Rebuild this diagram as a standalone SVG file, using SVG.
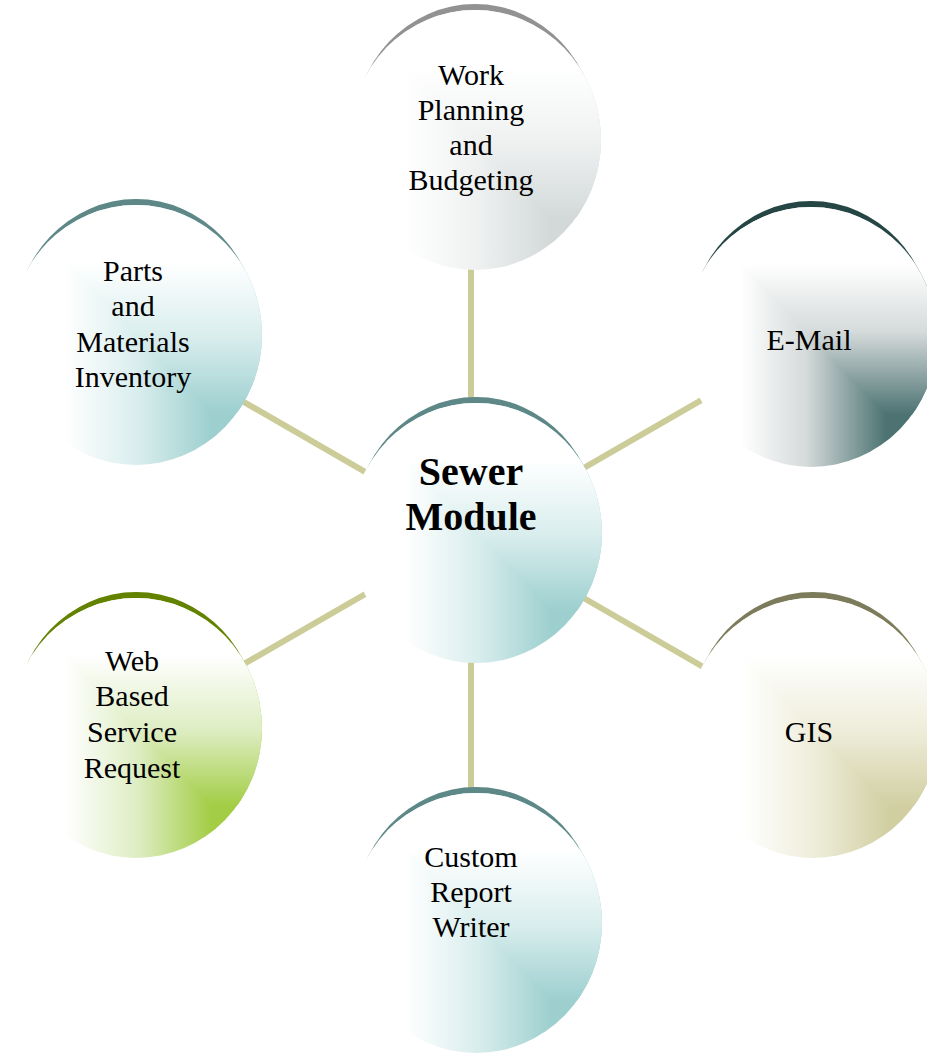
<svg xmlns="http://www.w3.org/2000/svg" width="927" height="1055" viewBox="0 0 927 1055">
  <style>
    .link { stroke: #cccc99; stroke-width: 6; fill: none; }
    .label { font-family: "Liberation Serif", "Times New Roman", serif; font-size: 30px; fill: #000; text-anchor: middle; }
    .hub-label { font-family: "Liberation Serif", "Times New Roman", serif; font-size: 40px; font-weight: bold; fill: #000; text-anchor: middle; }
  </style>
  <defs>
    <!-- upper-right wedge where the vertical ramp dominates (corner-type shading) -->
    <clipPath id="wedge" clipPathUnits="objectBoundingBox">
      <polygon points="0.8,0.8 -0.1,-0.1 1.1,-0.1 1.1,0.8"/>
    </clipPath>

    <!-- teal -->
    <linearGradient id="tealH" x1="0.22" y1="0" x2="0.8" y2="0">
      <stop offset="0" stop-color="#ffffff"/><stop offset="0.5" stop-color="#d9eded"/><stop offset="1" stop-color="#9dcfcf"/>
    </linearGradient>
    <linearGradient id="tealV" x1="0" y1="0.22" x2="0" y2="0.8">
      <stop offset="0" stop-color="#ffffff"/><stop offset="0.5" stop-color="#d9eded"/><stop offset="1" stop-color="#9dcfcf"/>
    </linearGradient>
    <!-- gray -->
    <linearGradient id="grayH" x1="0.22" y1="0" x2="0.8" y2="0">
      <stop offset="0" stop-color="#ffffff"/><stop offset="0.5" stop-color="#eff1f1"/><stop offset="1" stop-color="#d3d9d9"/>
    </linearGradient>
    <linearGradient id="grayV" x1="0" y1="0.22" x2="0" y2="0.8">
      <stop offset="0" stop-color="#ffffff"/><stop offset="0.5" stop-color="#eff1f1"/><stop offset="1" stop-color="#d3d9d9"/>
    </linearGradient>
    <!-- slate -->
    <linearGradient id="slateH" x1="0.22" y1="0" x2="0.8" y2="0">
      <stop offset="0" stop-color="#ffffff"/><stop offset="0.45" stop-color="#d5dada"/><stop offset="1" stop-color="#4c7272"/>
    </linearGradient>
    <linearGradient id="slateV" x1="0" y1="0.22" x2="0" y2="0.8">
      <stop offset="0" stop-color="#ffffff"/><stop offset="0.45" stop-color="#d5dada"/><stop offset="1" stop-color="#4c7272"/>
    </linearGradient>
    <!-- green -->
    <linearGradient id="greenH" x1="0.22" y1="0" x2="0.8" y2="0">
      <stop offset="0" stop-color="#ffffff"/><stop offset="0.5" stop-color="#ddedc2"/><stop offset="1" stop-color="#a3cd45"/>
    </linearGradient>
    <linearGradient id="greenV" x1="0" y1="0.22" x2="0" y2="0.8">
      <stop offset="0" stop-color="#ffffff"/><stop offset="0.5" stop-color="#ddedc2"/><stop offset="1" stop-color="#a3cd45"/>
    </linearGradient>
    <!-- khaki -->
    <linearGradient id="khakiH" x1="0.22" y1="0" x2="0.8" y2="0">
      <stop offset="0" stop-color="#ffffff"/><stop offset="0.5" stop-color="#eeedda"/><stop offset="1" stop-color="#d1cfa2"/>
    </linearGradient>
    <linearGradient id="khakiV" x1="0" y1="0.22" x2="0" y2="0.8">
      <stop offset="0" stop-color="#ffffff"/><stop offset="0.5" stop-color="#eeedda"/><stop offset="1" stop-color="#d1cfa2"/>
    </linearGradient>
  </defs>

  <rect width="927" height="1055" fill="#ffffff"/>

  <!-- spokes from the hub -->
  <g id="connectors">
    <line class="link" x1="471" y1="533" x2="471" y2="140"/>
    <line class="link" x1="471" y1="533" x2="471" y2="923"/>
    <line class="link" x1="471" y1="533" x2="133" y2="338"/>
    <line class="link" x1="471" y1="533" x2="809" y2="338"/>
    <line class="link" x1="471" y1="533" x2="133" y2="728"/>
    <line class="link" x1="471" y1="533" x2="809" y2="728"/>
  </g>

  <!-- each node: a narrower dark ellipse raised behind the face gives the top rim -->
  <g id="node-work">
    <ellipse cx="475" cy="134" rx="122" ry="130" fill="#929292"/>
    <ellipse cx="475" cy="140" rx="126" ry="130" fill="url(#grayH)"/>
    <ellipse cx="475" cy="140" rx="126" ry="130" fill="url(#grayV)" clip-path="url(#wedge)"/>
    <text class="label" x="471" y="85">Work</text>
    <text class="label" x="471" y="120">Planning</text>
    <text class="label" x="471" y="155">and</text>
    <text class="label" x="471" y="190">Budgeting</text>
  </g>

  <g id="node-parts">
    <ellipse cx="136" cy="329" rx="122" ry="130" fill="#5e8888"/>
    <ellipse cx="136" cy="335" rx="126" ry="130" fill="url(#tealH)"/>
    <ellipse cx="136" cy="335" rx="126" ry="130" fill="url(#tealV)" clip-path="url(#wedge)"/>
    <text class="label" x="133" y="281">Parts</text>
    <text class="label" x="133" y="316">and</text>
    <text class="label" x="133" y="352">Materials</text>
    <text class="label" x="133" y="387">Inventory</text>
  </g>

  <g id="node-email">
    <ellipse cx="811" cy="331" rx="122" ry="130" fill="#264646"/>
    <ellipse cx="811" cy="337" rx="126" ry="130" fill="url(#slateH)"/>
    <ellipse cx="811" cy="337" rx="126" ry="130" fill="url(#slateV)" clip-path="url(#wedge)"/>
    <text class="label" x="809" y="350">E-Mail</text>
  </g>

  <g id="node-hub">
    <ellipse cx="476" cy="527" rx="122" ry="130" fill="#5e8888"/>
    <ellipse cx="476" cy="533" rx="126" ry="130" fill="url(#tealH)"/>
    <ellipse cx="476" cy="533" rx="126" ry="130" fill="url(#tealV)" clip-path="url(#wedge)"/>
    <text class="hub-label" x="471" y="485">Sewer</text>
    <text class="hub-label" x="471" y="530">Module</text>
  </g>

  <g id="node-web">
    <ellipse cx="136" cy="722" rx="122" ry="130" fill="#628200"/>
    <ellipse cx="136" cy="728" rx="126" ry="130" fill="url(#greenH)"/>
    <ellipse cx="136" cy="728" rx="126" ry="130" fill="url(#greenV)" clip-path="url(#wedge)"/>
    <text class="label" x="132" y="671">Web</text>
    <text class="label" x="132" y="706">Based</text>
    <text class="label" x="132" y="742">Service</text>
    <text class="label" x="132" y="778">Request</text>
  </g>

  <g id="node-gis">
    <ellipse cx="813" cy="722" rx="122" ry="130" fill="#7c7c5c"/>
    <ellipse cx="813" cy="728" rx="126" ry="130" fill="url(#khakiH)"/>
    <ellipse cx="813" cy="728" rx="126" ry="130" fill="url(#khakiV)" clip-path="url(#wedge)"/>
    <text class="label" x="809" y="742">GIS</text>
  </g>

  <g id="node-custom">
    <ellipse cx="476" cy="917" rx="122" ry="130" fill="#5e8888"/>
    <ellipse cx="476" cy="923" rx="126" ry="130" fill="url(#tealH)"/>
    <ellipse cx="476" cy="923" rx="126" ry="130" fill="url(#tealV)" clip-path="url(#wedge)"/>
    <text class="label" x="471" y="867">Custom</text>
    <text class="label" x="471" y="902">Report</text>
    <text class="label" x="471" y="937">Writer</text>
  </g>
</svg>
